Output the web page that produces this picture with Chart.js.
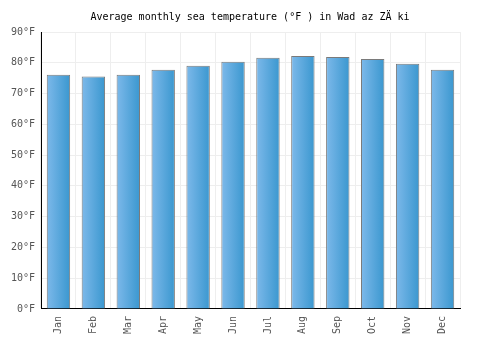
<!DOCTYPE html>
<html>
<head>
<meta charset="utf-8">
<script src="https://cdn.jsdelivr.net/npm/chart.js@4/dist/chart.umd.min.js"></script>
<style>
  html, body { margin: 0; padding: 0; background: #fff; }
  #wrap { width: 500px; height: 350px; }
</style>
</head>
<body>
<div id="wrap"><canvas id="chart" width="500" height="350"></canvas></div>
<script>
const months = ["Jan","Feb","Mar","Apr","May","Jun","Jul","Aug","Sep","Oct","Nov","Dec"];
const seaTempF = [76.1, 75.5, 76.1, 77.7, 79.0, 80.3, 81.6, 82.2, 81.9, 81.2, 79.7, 77.7];
const yTicks = [0, 10, 20, 30, 40, 50, 60, 70, 80, 90];

const FONT = "'DejaVu Sans Mono', monospace";
const BAR_PCT = 0.67;

// left-to-right gradient for each bar
function barFill(ctx) {
  const chart = ctx.chart;
  const xs = chart.scales.x;
  if (!xs || ctx.dataIndex == null) return "#4aa3dc";
  const cx = xs.getPixelForValue(ctx.dataIndex);
  const half = (xs.width / months.length) * BAR_PCT / 2;
  if (!isFinite(cx) || !isFinite(half) || half <= 0) return "#4aa3dc";
  const g = chart.ctx.createLinearGradient(cx - half, 0, cx + half, 0);
  g.addColorStop(0, "#7db9ea");
  g.addColorStop(1, "#3a97cf");
  return g;
}

new Chart(document.getElementById("chart"), {
  type: "bar",
  data: {
    labels: months,
    datasets: [{
      label: "Sea temperature",
      data: seaTempF,
      backgroundColor: barFill,
      borderColor: "#7a7a7a",
      borderWidth: 1,
      categoryPercentage: 1,
      barPercentage: BAR_PCT
    }]
  },
  options: {
    responsive: false,
    animation: false,
    layout: { padding: { left: 0, right: 0, top: 2, bottom: 9 } },
    plugins: {
      legend: { display: false },
      tooltip: { enabled: false },
      title: {
        display: true,
        text: "Average monthly sea temperature (°F ) in Wad az ZÄ ki",
        color: "#000",
        font: { family: FONT, size: 10, weight: "normal" },
        padding: { top: 9, bottom: 9 }
      }
    },
    scales: {
      x: {
        grid: { color: "#eeeeee", offset: true, drawTicks: false },
        border: { color: "#000", width: 1 },
        ticks: {
          color: "#555",
          font: { family: FONT, size: 10 },
          maxRotation: 90, minRotation: 90,
          padding: 7
        }
      },
      y: {
        min: 0, max: 90,
        afterBuildTicks: axis => { axis.ticks = yTicks.map(v => ({ value: v })); },
        afterFit: axis => { axis.width = 41; },
        grid: { color: "#eeeeee", drawTicks: false },
        border: { color: "#000", width: 1 },
        ticks: {
          color: "#555",
          font: { family: FONT, size: 10 },
          padding: 6,
          callback: v => v + "°F"
        }
      },
      // empty right-hand gutter
      yRight: {
        position: "right",
        min: 0, max: 90,
        afterFit: axis => { axis.width = 40; },
        grid: { display: false, drawOnChartArea: false },
        border: { display: false },
        ticks: { display: false }
      }
    }
  }
});
</script>
</body>
</html>
